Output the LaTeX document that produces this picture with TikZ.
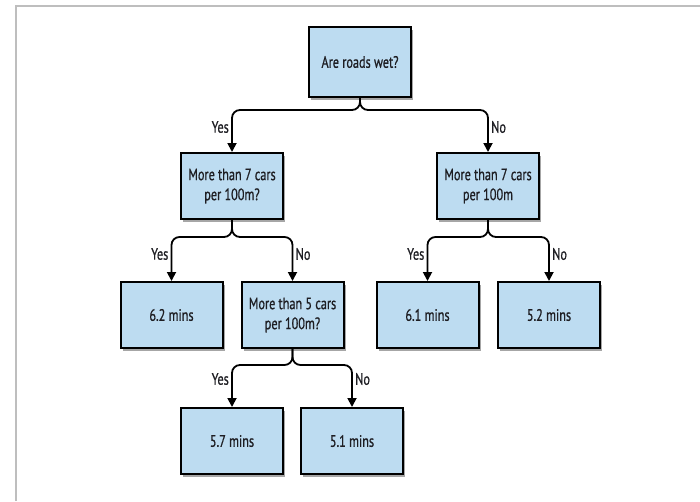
\documentclass[tikz,border=0pt]{standalone}
\usepackage{fontspec}
\setmainfont{PT Sans}[FakeStretch=0.74,FakeBold=0.8]
\usetikzlibrary{arrows.meta,shadows,calc}
\definecolor{boxfill}{RGB}{189,220,241}
\definecolor{framegray}{RGB}{190,190,190}
\definecolor{ink}{RGB}{30,30,35}
\begin{document}
\begin{tikzpicture}[x=1pt,y=-1pt,
  box/.style={draw=black, line width=2pt, fill=boxfill, minimum width=102pt, minimum height=66pt,
    align=center, font=\fontsize{16.5}{20}\selectfont, text=ink, inner sep=2pt,
    drop shadow={shadow xshift=2pt, shadow yshift=-3pt, opacity=0.35, fill=black}},
  conn/.style={line width=1.8pt, rounded corners=8pt, -{Triangle[length=9pt,width=9pt]}},
  lbl/.style={font=\fontsize{16.5}{20}\selectfont, text=ink, inner sep=2pt}]
\useasboundingbox (0,0) rectangle (700,501);
\draw[framegray, line width=1.5pt] (16,501) -- (16,6) -- (700,6);

\node[box, minimum height=70pt] (top) at (360,62) {Are roads wet?};
\node[box] (L1) at (232,186) {More than 7 cars\\per 100m?};
\node[box] (R1) at (488,186) {More than 7 cars\\per 100m};
\node[box] (a62) at (171.5,315) {6.2 mins};
\node[box] (M5) at (292.5,315) {More than 5 cars\\per 100m?};
\node[box] (a61) at (427.5,315) {6.1 mins};
\node[box] (a52) at (549,315) {5.2 mins};
\node[box] (a57) at (232,441) {5.7 mins};
\node[box] (a51) at (352,441) {5.1 mins};

\draw[conn] (top.south) -- ++(0,12) -| (L1.north);
\draw[conn] (top.south) -- ++(0,12) -| (R1.north);
\draw[conn] (L1.south) -- ++(0,17) -| (a62.north);
\draw[conn] (L1.south) -- ++(0,17) -| (M5.north);
\draw[conn] (R1.south) -- ++(0,17) -| (a61.north);
\draw[conn] (R1.south) -- ++(0,17) -| (a52.north);
\draw[conn] (M5.south) -- ++(0,16) -| (a57.north);
\draw[conn] (M5.south) -- ++(0,16) -| (a51.north);

\node[lbl, anchor=east] (y1) at ($(L1.north)+(-1,-25)$) {Yes};
\node[lbl, anchor=west] (n1) at ($(R1.north)+(1,-25)$) {No};
\node[lbl, anchor=east] (y2) at ($(a62.north)+(-1,-27)$) {Yes};
\node[lbl, anchor=west] (n2) at ($(M5.north)+(1,-27)$) {No};
\node[lbl, anchor=east] (y3) at ($(a61.north)+(-1,-27)$) {Yes};
\node[lbl, anchor=west] (n3) at ($(a52.north)+(1,-27)$) {No};
\node[lbl, anchor=east] (y4) at ($(a57.north)+(-1,-28)$) {Yes};
\node[lbl, anchor=west] (n4) at ($(a51.north)+(1,-28)$) {No};
\end{tikzpicture}
\end{document}
